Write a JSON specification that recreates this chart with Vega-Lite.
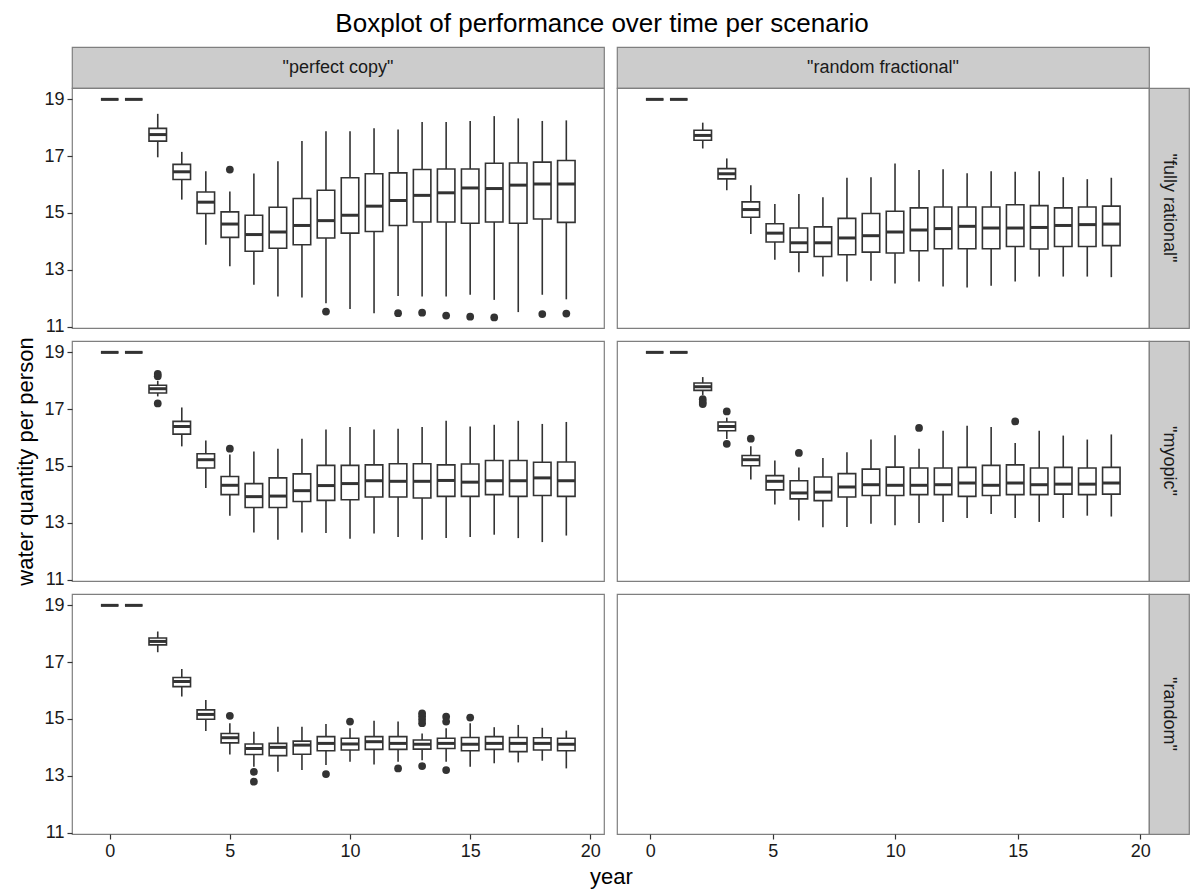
{
"$schema": "https://vega.github.io/schema/vega-lite/v6.json",
"title": {"text": "Boxplot of performance over time per scenario", "fontSize": 26, "fontWeight": "normal", "anchor": "middle", "color": "#000000", "offset": 9},
"padding": {"left": 14, "top": 11, "right": 1, "bottom": 5},
"background": "white",
"datasets": {
"boxes": [
{"col":"perfect copy","row":"fully rational","year":0,"lo":19,"q1":19,"med":19,"q3":19,"hi":19},
{"col":"perfect copy","row":"fully rational","year":1,"lo":19,"q1":19,"med":19,"q3":19,"hi":19},
{"col":"perfect copy","row":"fully rational","year":2,"lo":16.96,"q1":17.53,"med":17.76,"q3":17.98,"hi":18.49},
{"col":"perfect copy","row":"fully rational","year":3,"lo":15.47,"q1":16.18,"med":16.45,"q3":16.71,"hi":17.15},
{"col":"perfect copy","row":"fully rational","year":4,"lo":13.88,"q1":14.98,"med":15.38,"q3":15.74,"hi":16.47},
{"col":"perfect copy","row":"fully rational","year":5,"lo":13.12,"q1":14.14,"med":14.61,"q3":15.04,"hi":15.76},
{"col":"perfect copy","row":"fully rational","year":6,"lo":12.47,"q1":13.65,"med":14.24,"q3":14.92,"hi":16.39},
{"col":"perfect copy","row":"fully rational","year":7,"lo":12.06,"q1":13.76,"med":14.33,"q3":15.2,"hi":16.82},
{"col":"perfect copy","row":"fully rational","year":8,"lo":12.02,"q1":13.88,"med":14.56,"q3":15.51,"hi":17.53},
{"col":"perfect copy","row":"fully rational","year":9,"lo":11.82,"q1":14.12,"med":14.73,"q3":15.8,"hi":17.88},
{"col":"perfect copy","row":"fully rational","year":10,"lo":11.62,"q1":14.29,"med":14.92,"q3":16.24,"hi":17.88},
{"col":"perfect copy","row":"fully rational","year":11,"lo":11.47,"q1":14.35,"med":15.24,"q3":16.38,"hi":17.98},
{"col":"perfect copy","row":"fully rational","year":12,"lo":12.08,"q1":14.56,"med":15.44,"q3":16.41,"hi":17.94},
{"col":"perfect copy","row":"fully rational","year":13,"lo":12.06,"q1":14.68,"med":15.62,"q3":16.53,"hi":18.2},
{"col":"perfect copy","row":"fully rational","year":14,"lo":12.06,"q1":14.68,"med":15.71,"q3":16.55,"hi":18.2},
{"col":"perfect copy","row":"fully rational","year":15,"lo":12.12,"q1":14.64,"med":15.88,"q3":16.55,"hi":18.24},
{"col":"perfect copy","row":"fully rational","year":16,"lo":11.94,"q1":14.68,"med":15.86,"q3":16.75,"hi":18.41},
{"col":"perfect copy","row":"fully rational","year":17,"lo":11.51,"q1":14.64,"med":15.98,"q3":16.76,"hi":18.33},
{"col":"perfect copy","row":"fully rational","year":18,"lo":12.12,"q1":14.79,"med":16.02,"q3":16.79,"hi":18.24},
{"col":"perfect copy","row":"fully rational","year":19,"lo":11.96,"q1":14.67,"med":16.02,"q3":16.85,"hi":18.26},
{"col":"random fractional","row":"fully rational","year":0,"lo":19,"q1":19,"med":19,"q3":19,"hi":19},
{"col":"random fractional","row":"fully rational","year":1,"lo":19,"q1":19,"med":19,"q3":19,"hi":19},
{"col":"random fractional","row":"fully rational","year":2,"lo":17.27,"q1":17.56,"med":17.73,"q3":17.91,"hi":18.18},
{"col":"random fractional","row":"fully rational","year":3,"lo":15.8,"q1":16.2,"med":16.38,"q3":16.56,"hi":16.92},
{"col":"random fractional","row":"fully rational","year":4,"lo":14.26,"q1":14.85,"med":15.12,"q3":15.39,"hi":15.98},
{"col":"random fractional","row":"fully rational","year":5,"lo":13.35,"q1":13.98,"med":14.29,"q3":14.62,"hi":15.32},
{"col":"random fractional","row":"fully rational","year":6,"lo":12.91,"q1":13.62,"med":13.95,"q3":14.47,"hi":15.67},
{"col":"random fractional","row":"fully rational","year":7,"lo":12.76,"q1":13.47,"med":13.95,"q3":14.51,"hi":15.55},
{"col":"random fractional","row":"fully rational","year":8,"lo":12.59,"q1":13.53,"med":14.12,"q3":14.81,"hi":16.24},
{"col":"random fractional","row":"fully rational","year":9,"lo":12.61,"q1":13.62,"med":14.2,"q3":14.98,"hi":16.26},
{"col":"random fractional","row":"fully rational","year":10,"lo":12.52,"q1":13.59,"med":14.33,"q3":15.06,"hi":16.74},
{"col":"random fractional","row":"fully rational","year":11,"lo":12.59,"q1":13.67,"med":14.4,"q3":15.18,"hi":16.51},
{"col":"random fractional","row":"fully rational","year":12,"lo":12.41,"q1":13.74,"med":14.45,"q3":15.21,"hi":16.54},
{"col":"random fractional","row":"fully rational","year":13,"lo":12.38,"q1":13.74,"med":14.53,"q3":15.21,"hi":16.4},
{"col":"random fractional","row":"fully rational","year":14,"lo":12.44,"q1":13.74,"med":14.47,"q3":15.21,"hi":16.47},
{"col":"random fractional","row":"fully rational","year":15,"lo":12.59,"q1":13.82,"med":14.47,"q3":15.29,"hi":16.45},
{"col":"random fractional","row":"fully rational","year":16,"lo":12.76,"q1":13.73,"med":14.49,"q3":15.26,"hi":16.47},
{"col":"random fractional","row":"fully rational","year":17,"lo":12.76,"q1":13.82,"med":14.56,"q3":15.18,"hi":16.26},
{"col":"random fractional","row":"fully rational","year":18,"lo":12.76,"q1":13.82,"med":14.59,"q3":15.21,"hi":16.19},
{"col":"random fractional","row":"fully rational","year":19,"lo":12.74,"q1":13.85,"med":14.61,"q3":15.24,"hi":16.24},
{"col":"perfect copy","row":"myopic","year":0,"lo":19,"q1":19,"med":19,"q3":19,"hi":19},
{"col":"perfect copy","row":"myopic","year":1,"lo":19,"q1":19,"med":19,"q3":19,"hi":19},
{"col":"perfect copy","row":"myopic","year":2,"lo":17.45,"q1":17.57,"med":17.72,"q3":17.84,"hi":18.0},
{"col":"perfect copy","row":"myopic","year":3,"lo":15.69,"q1":16.12,"med":16.39,"q3":16.57,"hi":17.06},
{"col":"perfect copy","row":"myopic","year":4,"lo":14.22,"q1":14.93,"med":15.22,"q3":15.43,"hi":15.9},
{"col":"perfect copy","row":"myopic","year":5,"lo":13.25,"q1":13.99,"med":14.32,"q3":14.63,"hi":15.4},
{"col":"perfect copy","row":"myopic","year":6,"lo":12.66,"q1":13.54,"med":13.92,"q3":14.38,"hi":15.51},
{"col":"perfect copy","row":"myopic","year":7,"lo":12.4,"q1":13.54,"med":13.94,"q3":14.58,"hi":15.61},
{"col":"perfect copy","row":"myopic","year":8,"lo":12.66,"q1":13.75,"med":14.13,"q3":14.72,"hi":15.96},
{"col":"perfect copy","row":"myopic","year":9,"lo":12.64,"q1":13.79,"med":14.31,"q3":15.02,"hi":16.28},
{"col":"perfect copy","row":"myopic","year":10,"lo":12.44,"q1":13.81,"med":14.38,"q3":15.02,"hi":16.37},
{"col":"perfect copy","row":"myopic","year":11,"lo":12.62,"q1":13.91,"med":14.48,"q3":15.04,"hi":16.28},
{"col":"perfect copy","row":"myopic","year":12,"lo":12.5,"q1":13.91,"med":14.46,"q3":15.08,"hi":16.31},
{"col":"perfect copy","row":"myopic","year":13,"lo":12.4,"q1":13.87,"med":14.46,"q3":15.08,"hi":16.37},
{"col":"perfect copy","row":"myopic","year":14,"lo":12.46,"q1":13.93,"med":14.49,"q3":15.04,"hi":16.59},
{"col":"perfect copy","row":"myopic","year":15,"lo":12.5,"q1":13.93,"med":14.43,"q3":15.07,"hi":16.39},
{"col":"perfect copy","row":"myopic","year":16,"lo":12.58,"q1":13.99,"med":14.48,"q3":15.19,"hi":16.45},
{"col":"perfect copy","row":"myopic","year":17,"lo":12.46,"q1":13.93,"med":14.48,"q3":15.19,"hi":16.59},
{"col":"perfect copy","row":"myopic","year":18,"lo":12.32,"q1":13.96,"med":14.58,"q3":15.13,"hi":16.48},
{"col":"perfect copy","row":"myopic","year":19,"lo":12.55,"q1":13.93,"med":14.48,"q3":15.14,"hi":16.55},
{"col":"random fractional","row":"myopic","year":0,"lo":19,"q1":19,"med":19,"q3":19,"hi":19},
{"col":"random fractional","row":"myopic","year":1,"lo":19,"q1":19,"med":19,"q3":19,"hi":19},
{"col":"random fractional","row":"myopic","year":2,"lo":17.5,"q1":17.66,"med":17.79,"q3":17.92,"hi":18.13},
{"col":"random fractional","row":"myopic","year":3,"lo":15.95,"q1":16.24,"med":16.39,"q3":16.55,"hi":16.7},
{"col":"random fractional","row":"myopic","year":4,"lo":14.52,"q1":15.01,"med":15.22,"q3":15.37,"hi":15.69},
{"col":"random fractional","row":"myopic","year":5,"lo":13.64,"q1":14.16,"med":14.46,"q3":14.66,"hi":15.19},
{"col":"random fractional","row":"myopic","year":6,"lo":13.08,"q1":13.84,"med":14.05,"q3":14.48,"hi":14.95},
{"col":"random fractional","row":"myopic","year":7,"lo":12.84,"q1":13.78,"med":14.08,"q3":14.61,"hi":15.28},
{"col":"random fractional","row":"myopic","year":8,"lo":12.85,"q1":13.91,"med":14.26,"q3":14.73,"hi":15.48},
{"col":"random fractional","row":"myopic","year":9,"lo":12.97,"q1":13.96,"med":14.34,"q3":14.89,"hi":15.93},
{"col":"random fractional","row":"myopic","year":10,"lo":12.91,"q1":13.96,"med":14.32,"q3":14.96,"hi":16.08},
{"col":"random fractional","row":"myopic","year":11,"lo":12.99,"q1":13.99,"med":14.32,"q3":14.93,"hi":15.61},
{"col":"random fractional","row":"myopic","year":12,"lo":13.03,"q1":13.99,"med":14.34,"q3":14.93,"hi":16.24},
{"col":"random fractional","row":"myopic","year":13,"lo":13.17,"q1":13.93,"med":14.4,"q3":14.95,"hi":16.42},
{"col":"random fractional","row":"myopic","year":14,"lo":13.31,"q1":13.96,"med":14.32,"q3":15.02,"hi":16.37},
{"col":"random fractional","row":"myopic","year":15,"lo":13.17,"q1":13.99,"med":14.4,"q3":15.04,"hi":15.81},
{"col":"random fractional","row":"myopic","year":16,"lo":13.03,"q1":13.99,"med":14.34,"q3":14.93,"hi":16.24},
{"col":"random fractional","row":"myopic","year":17,"lo":13.17,"q1":14.01,"med":14.36,"q3":14.95,"hi":16.07},
{"col":"random fractional","row":"myopic","year":18,"lo":13.25,"q1":13.99,"med":14.36,"q3":14.93,"hi":15.93},
{"col":"random fractional","row":"myopic","year":19,"lo":13.22,"q1":14.01,"med":14.4,"q3":14.95,"hi":16.11},
{"col":"perfect copy","row":"random","year":0,"lo":19,"q1":19,"med":19,"q3":19,"hi":19},
{"col":"perfect copy","row":"random","year":1,"lo":19,"q1":19,"med":19,"q3":19,"hi":19},
{"col":"perfect copy","row":"random","year":2,"lo":17.35,"q1":17.61,"med":17.73,"q3":17.85,"hi":18.08},
{"col":"perfect copy","row":"random","year":3,"lo":15.79,"q1":16.14,"med":16.32,"q3":16.46,"hi":16.76},
{"col":"perfect copy","row":"random","year":4,"lo":14.58,"q1":14.99,"med":15.16,"q3":15.32,"hi":15.67},
{"col":"perfect copy","row":"random","year":5,"lo":13.75,"q1":14.16,"med":14.34,"q3":14.49,"hi":14.85},
{"col":"perfect copy","row":"random","year":6,"lo":13.32,"q1":13.75,"med":13.96,"q3":14.12,"hi":14.55},
{"col":"perfect copy","row":"random","year":7,"lo":13.14,"q1":13.71,"med":14.0,"q3":14.14,"hi":14.73},
{"col":"perfect copy","row":"random","year":8,"lo":13.2,"q1":13.76,"med":14.08,"q3":14.22,"hi":14.73},
{"col":"perfect copy","row":"random","year":9,"lo":13.38,"q1":13.88,"med":14.14,"q3":14.38,"hi":14.82},
{"col":"perfect copy","row":"random","year":10,"lo":13.49,"q1":13.91,"med":14.12,"q3":14.32,"hi":14.67},
{"col":"perfect copy","row":"random","year":11,"lo":13.4,"q1":13.93,"med":14.2,"q3":14.38,"hi":14.94},
{"col":"perfect copy","row":"random","year":12,"lo":13.49,"q1":13.93,"med":14.14,"q3":14.38,"hi":14.91},
{"col":"perfect copy","row":"random","year":13,"lo":13.55,"q1":13.94,"med":14.11,"q3":14.26,"hi":14.49},
{"col":"perfect copy","row":"random","year":14,"lo":13.49,"q1":13.96,"med":14.14,"q3":14.32,"hi":14.67},
{"col":"perfect copy","row":"random","year":15,"lo":13.32,"q1":13.88,"med":14.11,"q3":14.35,"hi":14.85},
{"col":"perfect copy","row":"random","year":16,"lo":13.44,"q1":13.93,"med":14.14,"q3":14.38,"hi":14.71},
{"col":"perfect copy","row":"random","year":17,"lo":13.47,"q1":13.85,"med":14.14,"q3":14.35,"hi":14.79},
{"col":"perfect copy","row":"random","year":18,"lo":13.53,"q1":13.91,"med":14.14,"q3":14.34,"hi":14.69},
{"col":"perfect copy","row":"random","year":19,"lo":13.26,"q1":13.88,"med":14.11,"q3":14.32,"hi":14.59}
],
"outliers": [
{"col":"perfect copy","row":"fully rational","year":5,"v":16.53},
{"col":"perfect copy","row":"fully rational","year":9,"v":11.53},
{"col":"perfect copy","row":"fully rational","year":12,"v":11.47},
{"col":"perfect copy","row":"fully rational","year":13,"v":11.49},
{"col":"perfect copy","row":"fully rational","year":14,"v":11.39},
{"col":"perfect copy","row":"fully rational","year":15,"v":11.35},
{"col":"perfect copy","row":"fully rational","year":16,"v":11.32},
{"col":"perfect copy","row":"fully rational","year":18,"v":11.44},
{"col":"perfect copy","row":"fully rational","year":19,"v":11.46},
{"col":"perfect copy","row":"myopic","year":2,"v":18.24},
{"col":"perfect copy","row":"myopic","year":2,"v":18.16},
{"col":"perfect copy","row":"myopic","year":2,"v":17.2},
{"col":"perfect copy","row":"myopic","year":5,"v":15.61},
{"col":"random fractional","row":"myopic","year":2,"v":17.35},
{"col":"random fractional","row":"myopic","year":2,"v":17.25},
{"col":"random fractional","row":"myopic","year":2,"v":17.18},
{"col":"random fractional","row":"myopic","year":3,"v":16.92},
{"col":"random fractional","row":"myopic","year":3,"v":15.78},
{"col":"random fractional","row":"myopic","year":4,"v":15.96},
{"col":"random fractional","row":"myopic","year":6,"v":15.46},
{"col":"random fractional","row":"myopic","year":11,"v":16.34},
{"col":"random fractional","row":"myopic","year":15,"v":16.57},
{"col":"perfect copy","row":"random","year":5,"v":15.11},
{"col":"perfect copy","row":"random","year":6,"v":13.14},
{"col":"perfect copy","row":"random","year":6,"v":12.79},
{"col":"perfect copy","row":"random","year":9,"v":13.06},
{"col":"perfect copy","row":"random","year":10,"v":14.91},
{"col":"perfect copy","row":"random","year":12,"v":13.26},
{"col":"perfect copy","row":"random","year":13,"v":15.2},
{"col":"perfect copy","row":"random","year":13,"v":15.1},
{"col":"perfect copy","row":"random","year":13,"v":14.98},
{"col":"perfect copy","row":"random","year":13,"v":14.85},
{"col":"perfect copy","row":"random","year":13,"v":13.34},
{"col":"perfect copy","row":"random","year":14,"v":15.08},
{"col":"perfect copy","row":"random","year":14,"v":14.91},
{"col":"perfect copy","row":"random","year":14,"v":13.2},
{"col":"perfect copy","row":"random","year":15,"v":15.05}
],
"strips": [
{"label": "\"perfect copy\"", "pos": "pc"},
{"label": "\"random fractional\"", "pos": "rf"},
{"label": "\"fully rational\"", "pos": "fr"},
{"label": "\"myopic\"", "pos": "my"},
{"label": "\"random\"", "pos": "ra"}
]
},
"columns": 4,
"spacing": 0,
"bounds": "flush",
"align": "each",
"concat": [
 {"width": 532, "height": 41, "view": {"fill": "#cccccc", "stroke": "#7f7f7f", "strokeWidth": 1.2}, "data": {"name": "strips"}, "transform": [{"filter": "datum.pos === 'pc'"}], "mark": {"type": "text", "fontSize": 18, "color": "#1a1a1a"}, "encoding": {"text": {"field": "label"}}},
 {"width": 13, "height": 13, "view": {"fill": "transparent", "stroke": "transparent"}, "data": {"values": []}, "mark": {"type": "point", "opacity": 0}, "encoding": {}},
 {"width": 532, "height": 41, "view": {"fill": "#cccccc", "stroke": "#7f7f7f", "strokeWidth": 1.2}, "data": {"name": "strips"}, "transform": [{"filter": "datum.pos === 'rf'"}], "mark": {"type": "text", "fontSize": 18, "color": "#1a1a1a"}, "encoding": {"text": {"field": "label"}}},
 {"width": 13, "height": 13, "view": {"fill": "transparent", "stroke": "transparent"}, "data": {"values": []}, "mark": {"type": "point", "opacity": 0}, "encoding": {}},

 {"width": 532, "height": 240, "layer": [
  {"data": {"name": "boxes"}, "transform": [{"filter": "datum.col === 'perfect copy' && datum.row === 'fully rational'"}], "mark": {"type": "rule", "color": "#333333", "strokeWidth": 1.6},
   "encoding": {"x": {"field": "year", "type": "quantitative", "scale": {"domain": [-1.36, 20.36], "nice": false, "zero": false}, "axis": null}, "y": {"field": "lo", "type": "quantitative", "scale": {"domain": [10.95, 19.4], "nice": false, "zero": false}, "axis": {"values": [11, 13, 15, 17, 19], "title": null}}, "y2": {"field": "hi"}}},
  {"data": {"name": "boxes"}, "transform": [{"filter": "datum.col === 'perfect copy' && datum.row === 'fully rational'"}], "mark": {"type": "bar", "fill": "white", "stroke": "#333333", "strokeWidth": 1.6, "width": 17.5},
   "encoding": {"x": {"field": "year", "type": "quantitative", "axis": null}, "y": {"field": "q1", "type": "quantitative", "axis": {"values": [11, 13, 15, 17, 19], "title": null}}, "y2": {"field": "q3"}}},
  {"data": {"name": "boxes"}, "transform": [{"filter": "datum.col === 'perfect copy' && datum.row === 'fully rational'"}], "mark": {"type": "tick", "color": "#333333", "thickness": 3, "size": 17.5, "orient": "horizontal", "opacity": 1},
   "encoding": {"x": {"field": "year", "type": "quantitative", "axis": null}, "y": {"field": "med", "type": "quantitative", "axis": {"values": [11, 13, 15, 17, 19], "title": null}}}},
  {"data": {"name": "outliers"}, "transform": [{"filter": "datum.col === 'perfect copy' && datum.row === 'fully rational'"}], "mark": {"type": "circle", "color": "#333333", "size": 60, "opacity": 1},
   "encoding": {"x": {"field": "year", "type": "quantitative", "axis": null}, "y": {"field": "v", "type": "quantitative", "axis": {"values": [11, 13, 15, 17, 19], "title": null}}}}
 ]},
 {"width": 13, "height": 13, "view": {"fill": "transparent", "stroke": "transparent"}, "data": {"values": []}, "mark": {"type": "point", "opacity": 0}, "encoding": {}},
 {"width": 532, "height": 240, "layer": [
  {"data": {"name": "boxes"}, "transform": [{"filter": "datum.col === 'random fractional' && datum.row === 'fully rational'"}], "mark": {"type": "rule", "color": "#333333", "strokeWidth": 1.6},
   "encoding": {"x": {"field": "year", "type": "quantitative", "scale": {"domain": [-1.36, 20.36], "nice": false, "zero": false}, "axis": null}, "y": {"field": "lo", "type": "quantitative", "scale": {"domain": [10.95, 19.4], "nice": false, "zero": false}, "axis": null}, "y2": {"field": "hi"}}},
  {"data": {"name": "boxes"}, "transform": [{"filter": "datum.col === 'random fractional' && datum.row === 'fully rational'"}], "mark": {"type": "bar", "fill": "white", "stroke": "#333333", "strokeWidth": 1.6, "width": 17.5},
   "encoding": {"x": {"field": "year", "type": "quantitative", "axis": null}, "y": {"field": "q1", "type": "quantitative", "axis": null}, "y2": {"field": "q3"}}},
  {"data": {"name": "boxes"}, "transform": [{"filter": "datum.col === 'random fractional' && datum.row === 'fully rational'"}], "mark": {"type": "tick", "color": "#333333", "thickness": 3, "size": 17.5, "orient": "horizontal", "opacity": 1},
   "encoding": {"x": {"field": "year", "type": "quantitative", "axis": null}, "y": {"field": "med", "type": "quantitative", "axis": null}}}
 ]},
 {"width": 40, "height": 240, "view": {"fill": "#cccccc", "stroke": "#7f7f7f", "strokeWidth": 1.2}, "data": {"name": "strips"}, "transform": [{"filter": "datum.pos === 'fr'"}], "mark": {"type": "text", "fontSize": 18, "color": "#1a1a1a", "angle": 90}, "encoding": {"text": {"field": "label"}}},

 {"width": 13, "height": 13, "view": {"fill": "transparent", "stroke": "transparent"}, "data": {"values": []}, "mark": {"type": "point", "opacity": 0}, "encoding": {}},
 {"width": 13, "height": 13, "view": {"fill": "transparent", "stroke": "transparent"}, "data": {"values": []}, "mark": {"type": "point", "opacity": 0}, "encoding": {}},
 {"width": 13, "height": 13, "view": {"fill": "transparent", "stroke": "transparent"}, "data": {"values": []}, "mark": {"type": "point", "opacity": 0}, "encoding": {}},
 {"width": 13, "height": 13, "view": {"fill": "transparent", "stroke": "transparent"}, "data": {"values": []}, "mark": {"type": "point", "opacity": 0}, "encoding": {}},

 {"width": 532, "height": 240, "layer": [
  {"data": {"name": "boxes"}, "transform": [{"filter": "datum.col === 'perfect copy' && datum.row === 'myopic'"}], "mark": {"type": "rule", "color": "#333333", "strokeWidth": 1.6},
   "encoding": {"x": {"field": "year", "type": "quantitative", "scale": {"domain": [-1.36, 20.36], "nice": false, "zero": false}, "axis": null}, "y": {"field": "lo", "type": "quantitative", "scale": {"domain": [10.95, 19.4], "nice": false, "zero": false}, "axis": {"values": [11, 13, 15, 17, 19], "title": "water quantity per person"}}, "y2": {"field": "hi"}}},
  {"data": {"name": "boxes"}, "transform": [{"filter": "datum.col === 'perfect copy' && datum.row === 'myopic'"}], "mark": {"type": "bar", "fill": "white", "stroke": "#333333", "strokeWidth": 1.6, "width": 17.5},
   "encoding": {"x": {"field": "year", "type": "quantitative", "axis": null}, "y": {"field": "q1", "type": "quantitative", "axis": {"values": [11, 13, 15, 17, 19], "title": "water quantity per person"}}, "y2": {"field": "q3"}}},
  {"data": {"name": "boxes"}, "transform": [{"filter": "datum.col === 'perfect copy' && datum.row === 'myopic'"}], "mark": {"type": "tick", "color": "#333333", "thickness": 3, "size": 17.5, "orient": "horizontal", "opacity": 1},
   "encoding": {"x": {"field": "year", "type": "quantitative", "axis": null}, "y": {"field": "med", "type": "quantitative", "axis": {"values": [11, 13, 15, 17, 19], "title": "water quantity per person"}}}},
  {"data": {"name": "outliers"}, "transform": [{"filter": "datum.col === 'perfect copy' && datum.row === 'myopic'"}], "mark": {"type": "circle", "color": "#333333", "size": 60, "opacity": 1},
   "encoding": {"x": {"field": "year", "type": "quantitative", "axis": null}, "y": {"field": "v", "type": "quantitative", "axis": {"values": [11, 13, 15, 17, 19], "title": "water quantity per person"}}}}
 ]},
 {"width": 13, "height": 13, "view": {"fill": "transparent", "stroke": "transparent"}, "data": {"values": []}, "mark": {"type": "point", "opacity": 0}, "encoding": {}},
 {"width": 532, "height": 240, "layer": [
  {"data": {"name": "boxes"}, "transform": [{"filter": "datum.col === 'random fractional' && datum.row === 'myopic'"}], "mark": {"type": "rule", "color": "#333333", "strokeWidth": 1.6},
   "encoding": {"x": {"field": "year", "type": "quantitative", "scale": {"domain": [-1.36, 20.36], "nice": false, "zero": false}, "axis": null}, "y": {"field": "lo", "type": "quantitative", "scale": {"domain": [10.95, 19.4], "nice": false, "zero": false}, "axis": null}, "y2": {"field": "hi"}}},
  {"data": {"name": "boxes"}, "transform": [{"filter": "datum.col === 'random fractional' && datum.row === 'myopic'"}], "mark": {"type": "bar", "fill": "white", "stroke": "#333333", "strokeWidth": 1.6, "width": 17.5},
   "encoding": {"x": {"field": "year", "type": "quantitative", "axis": null}, "y": {"field": "q1", "type": "quantitative", "axis": null}, "y2": {"field": "q3"}}},
  {"data": {"name": "boxes"}, "transform": [{"filter": "datum.col === 'random fractional' && datum.row === 'myopic'"}], "mark": {"type": "tick", "color": "#333333", "thickness": 3, "size": 17.5, "orient": "horizontal", "opacity": 1},
   "encoding": {"x": {"field": "year", "type": "quantitative", "axis": null}, "y": {"field": "med", "type": "quantitative", "axis": null}}},
  {"data": {"name": "outliers"}, "transform": [{"filter": "datum.col === 'random fractional' && datum.row === 'myopic'"}], "mark": {"type": "circle", "color": "#333333", "size": 60, "opacity": 1},
   "encoding": {"x": {"field": "year", "type": "quantitative", "axis": null}, "y": {"field": "v", "type": "quantitative", "axis": null}}}
 ]},
 {"width": 40, "height": 240, "view": {"fill": "#cccccc", "stroke": "#7f7f7f", "strokeWidth": 1.2}, "data": {"name": "strips"}, "transform": [{"filter": "datum.pos === 'my'"}], "mark": {"type": "text", "fontSize": 18, "color": "#1a1a1a", "angle": 90}, "encoding": {"text": {"field": "label"}}},

 {"width": 13, "height": 13, "view": {"fill": "transparent", "stroke": "transparent"}, "data": {"values": []}, "mark": {"type": "point", "opacity": 0}, "encoding": {}},
 {"width": 13, "height": 13, "view": {"fill": "transparent", "stroke": "transparent"}, "data": {"values": []}, "mark": {"type": "point", "opacity": 0}, "encoding": {}},
 {"width": 13, "height": 13, "view": {"fill": "transparent", "stroke": "transparent"}, "data": {"values": []}, "mark": {"type": "point", "opacity": 0}, "encoding": {}},
 {"width": 13, "height": 13, "view": {"fill": "transparent", "stroke": "transparent"}, "data": {"values": []}, "mark": {"type": "point", "opacity": 0}, "encoding": {}},

 {"width": 532, "height": 240, "layer": [
  {"data": {"name": "boxes"}, "transform": [{"filter": "datum.col === 'perfect copy' && datum.row === 'random'"}], "mark": {"type": "rule", "color": "#333333", "strokeWidth": 1.6},
   "encoding": {"x": {"field": "year", "type": "quantitative", "scale": {"domain": [-1.36, 20.36], "nice": false, "zero": false}, "axis": {"values": [0, 5, 10, 15, 20], "title": "year", "titleX": 539}}, "y": {"field": "lo", "type": "quantitative", "scale": {"domain": [10.95, 19.4], "nice": false, "zero": false}, "axis": {"values": [11, 13, 15, 17, 19], "title": null}}, "y2": {"field": "hi"}}},
  {"data": {"name": "boxes"}, "transform": [{"filter": "datum.col === 'perfect copy' && datum.row === 'random'"}], "mark": {"type": "bar", "fill": "white", "stroke": "#333333", "strokeWidth": 1.6, "width": 17.5},
   "encoding": {"x": {"field": "year", "type": "quantitative", "axis": {"values": [0, 5, 10, 15, 20], "title": "year", "titleX": 539}}, "y": {"field": "q1", "type": "quantitative", "axis": {"values": [11, 13, 15, 17, 19], "title": null}}, "y2": {"field": "q3"}}},
  {"data": {"name": "boxes"}, "transform": [{"filter": "datum.col === 'perfect copy' && datum.row === 'random'"}], "mark": {"type": "tick", "color": "#333333", "thickness": 3, "size": 17.5, "orient": "horizontal", "opacity": 1},
   "encoding": {"x": {"field": "year", "type": "quantitative", "axis": {"values": [0, 5, 10, 15, 20], "title": "year", "titleX": 539}}, "y": {"field": "med", "type": "quantitative", "axis": {"values": [11, 13, 15, 17, 19], "title": null}}}},
  {"data": {"name": "outliers"}, "transform": [{"filter": "datum.col === 'perfect copy' && datum.row === 'random'"}], "mark": {"type": "circle", "color": "#333333", "size": 60, "opacity": 1},
   "encoding": {"x": {"field": "year", "type": "quantitative", "axis": {"values": [0, 5, 10, 15, 20], "title": "year", "titleX": 539}}, "y": {"field": "v", "type": "quantitative", "axis": {"values": [11, 13, 15, 17, 19], "title": null}}}}
 ]},
 {"width": 13, "height": 13, "view": {"fill": "transparent", "stroke": "transparent"}, "data": {"values": []}, "mark": {"type": "point", "opacity": 0}, "encoding": {}},
 {"width": 532, "height": 240, "data": {"name": "boxes"}, "transform": [{"filter": "datum.col === 'random fractional' && datum.row === 'random'"}], "mark": {"type": "rule", "color": "#333333", "strokeWidth": 1.6},
  "encoding": {"x": {"field": "year", "type": "quantitative", "scale": {"domain": [-1.36, 20.36], "nice": false, "zero": false}, "axis": {"values": [0, 5, 10, 15, 20], "title": null}}, "y": {"field": "lo", "type": "quantitative", "scale": {"domain": [10.95, 19.4], "nice": false, "zero": false}, "axis": null}, "y2": {"field": "hi"}}},
 {"width": 40, "height": 240, "view": {"fill": "#cccccc", "stroke": "#7f7f7f", "strokeWidth": 1.2}, "data": {"name": "strips"}, "transform": [{"filter": "datum.pos === 'ra'"}], "mark": {"type": "text", "fontSize": 18, "color": "#1a1a1a", "angle": 90}, "encoding": {"text": {"field": "label"}}}
],
"config": {
 "font": "Liberation Sans",
 "view": {"stroke": "#7f7f7f", "strokeWidth": 1.2, "fill": "white"},
 "axis": {"grid": false, "domain": false, "tickColor": "#333333", "tickSize": 5, "tickWidth": 1.2, "labelFontSize": 18, "labelColor": "#1a1a1a", "labelPadding": 3, "titleFontSize": 22, "titleFontWeight": "normal", "titleColor": "#000000", "titlePadding": 6}
}
}
